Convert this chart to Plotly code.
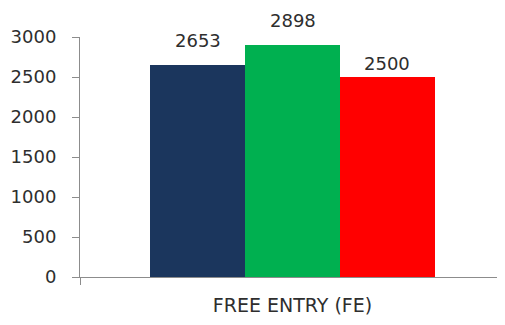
import plotly.graph_objects as go

categories = ["FREE ENTRY (FE)"]
series_values = [2653, 2898, 2500]
series_colors = ["#1B365D", "#00B050", "#FF0000"]
label_shifts = [24, 25, 14]
y_ticks = [0, 500, 1000, 1500, 2000, 2500, 3000]

FONT = "DejaVu Sans"
TXT = "#2E2E2E"
AXIS = "#8C8C8C"
X_RANGE = [-1.24, 3.24]

fig = go.Figure()
for i, (v, c) in enumerate(zip(series_values, series_colors)):
    fig.add_trace(go.Bar(x=[i], y=[v], width=1, marker_color=c,
                         marker_line_width=0, hoverinfo="y", showlegend=False))
    fig.add_annotation(x=i, y=v, text=str(v), showarrow=False,
                       yanchor="middle", yshift=label_shifts[i],
                       font=dict(family=FONT, size=18, color=TXT))

# page body adds an 8px offset, so margins are trimmed to compensate
fig.update_layout(
    width=505, height=325,
    margin=dict(l=72, r=8, t=29, b=56),
    plot_bgcolor="white", paper_bgcolor="white",
    bargap=0,
)
# category boundary ticks like excel, label without a tick
fig.update_xaxes(range=X_RANGE, tickvals=[1], ticktext=categories,
                 showline=True, linecolor=AXIS, linewidth=1,
                 ticks="", showgrid=False, zeroline=False, automargin=False,
                 minor=dict(tickvals=X_RANGE, ticks="outside", ticklen=7,
                            tickcolor=AXIS, showgrid=False),
                 tickfont=dict(family=FONT, size=19, color=TXT),
                 ticklabelstandoff=11)
fig.update_yaxes(range=[0, 3000], tickvals=y_ticks,
                 showline=True, linecolor=AXIS, linewidth=1,
                 ticks="outside", ticklen=7, tickcolor=AXIS,
                 showgrid=False, zeroline=False, automargin=False,
                 tickfont=dict(family=FONT, size=18, color=TXT),
                 ticklabelstandoff=12)

fig.write_html("out.html")
